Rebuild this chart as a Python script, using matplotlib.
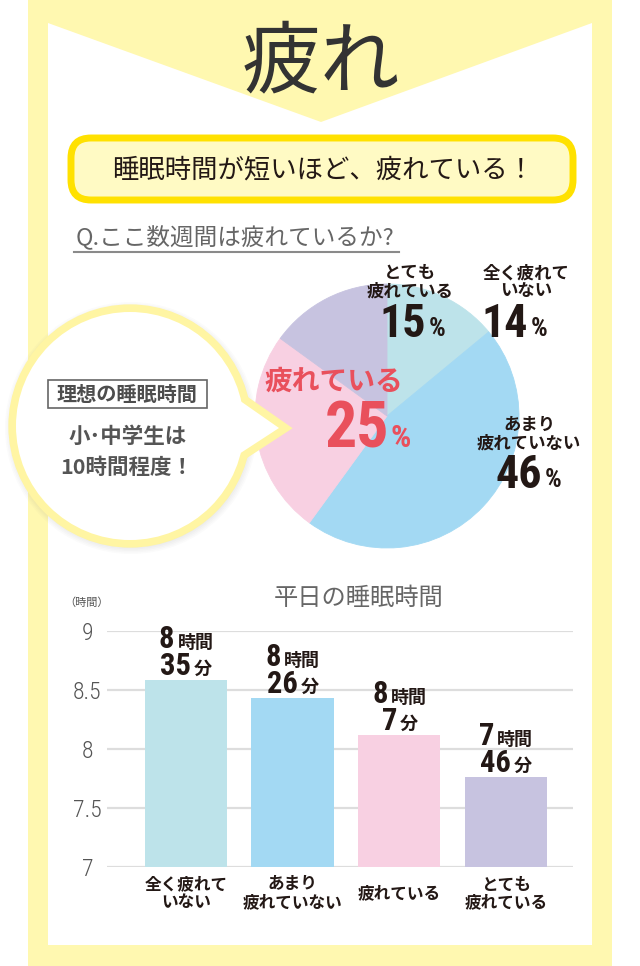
import matplotlib.pyplot as plt
from matplotlib.patches import Rectangle, Polygon, Circle, FancyBboxPatch

plt.rcParams['font.family'] = ['Noto Sans CJK JP', 'DejaVu Sans']

# pie: Q.ここ数週間は疲れているか?
pie_labels = ['全く疲れて\nいない', 'あまり\n疲れていない', '疲れている', 'とても\n疲れている']
pie_values = [14, 46, 25, 15]
pie_colors = ['#bde3ea', '#a3d9f3', '#f8d0e2', '#c7c3e0']

# bars: 平日の睡眠時間
bar_labels = ['全く疲れて\nいない', 'あまり\n疲れていない', '疲れている', 'とても\n疲れている']
bar_hours = [8, 8, 8, 7]
bar_minutes = [35, 26, 7, 46]
y_ticks = [7, 7.5, 8, 8.5, 9]

W, H = 640, 966
NUM = ['Roboto Condensed', 'DejaVu Sans']
DARK = '#231815'
FRAME = '#fff8b0'


def fig_rect(x0, y0, x1, y1):
    return [x0 / W, 1 - y1 / H, (x1 - x0) / W, (y1 - y0) / H]


fig = plt.figure(figsize=(6.4, 9.66), dpi=100)
bg = fig.add_axes([0, 0, 1, 1])
bg.set_xlim(0, W)
bg.set_ylim(H, 0)
bg.axis('off')

# frame + chevron
bg.add_patch(Rectangle((28, 0), 584, H, color=FRAME, lw=0))
bg.add_patch(Rectangle((48, 23), 544, 922, color='white', lw=0))
bg.add_patch(Polygon([(48, 23), (592, 23), (321, 122)], closed=True, color=FRAME, lw=0))
bg.text(321, 64, '疲れ', fontsize=57, color='#333333', ha='center', va='center')

bg.add_patch(FancyBboxPatch((71, 138), 502, 62, boxstyle='round,pad=0,rounding_size=20',
                            fc='#fffac4', ec='#ffe100', lw=5))
bg.text(323, 170, '睡眠時間が短いほど、疲れている！', fontsize=19, color=DARK,
        ha='center', va='center')

bg.text(76, 238, 'Q.ここ数週間は疲れているか?', fontsize=17, color='#666666',
        ha='left', va='center')
bg.plot([74, 399], [252, 252], color='#8a8a8a', lw=1.5)

# pie
cx, cy, r = 387, 416, 132
ax_pie = fig.add_axes(fig_rect(cx - r, cy - r, cx + r, cy + r))
ax_pie.pie(pie_values, colors=pie_colors, startangle=90, counterclock=False,
           radius=1, wedgeprops=dict(linewidth=0.6, edgecolor='none'))
for w, c in zip(ax_pie.patches, pie_colors):
    w.set_edgecolor(c)
ax_pie.set_xlim(-1, 1)
ax_pie.set_ylim(-1, 1)
ax_pie.axis('off')

# bar chart
vals = [h + m / 60 for h, m in zip(bar_hours, bar_minutes)]
ax = fig.add_axes(fig_rect(107, 631, 573, 867))
ax.bar(range(len(vals)), vals, width=0.77, color=pie_colors, zorder=2)
ax.set_ylim(7, 9)
ax.set_xlim(-0.74, 3.63)
ax.set_yticks(y_ticks)
ax.set_yticklabels([f'{t:g}' for t in y_ticks], family=NUM, fontweight='light',
                   fontsize=17, color='#555555')
for lab in ax.get_yticklabels():
    lab.set_ha('center')
ax.yaxis.grid(True, color='#dddddd', lw=1.6, zorder=0)
ax.set_xticks(range(len(vals)))
ax.set_xticklabels(bar_labels, fontsize=12, fontweight='bold', color=DARK,
                   linespacing=1.0, va='center')
ax.tick_params(axis='y', length=0, pad=14)
ax.tick_params(axis='x', length=0, pad=19)
for s in ax.spines.values():
    s.set_visible(False)
ax.set_facecolor('none')

for i, (h, m, v) in enumerate(zip(bar_hours, bar_minutes, vals)):
    for txt, unit, base in [(str(h), '時間', 32), (str(m), '分', 5)]:
        dw = 14 * len(txt)
        uw = 19 * len(unit)
        split = -(dw + 3 + uw) / 2 + dw + 2
        ax.annotate(txt, (i, v), xytext=(split, base), textcoords='offset pixels',
                    ha='right', va='baseline', fontsize=22, fontweight='bold',
                    family=NUM, color=DARK)
        ax.annotate(unit, (i, v), xytext=(split + 3, base), textcoords='offset pixels',
                    ha='left', va='baseline', fontsize=13, fontweight='bold', color=DARK)

bg.text(359, 598, '平日の睡眠時間', fontsize=17.5, color='#666666', ha='center', va='center')
bg.text(87, 603, '（時間）', fontsize=8, color='#555555', ha='center', va='center')

# overlay: bubble and pie labels
top = fig.add_axes([0, 0, 1, 1])
top.set_xlim(0, W)
top.set_ylim(H, 0)
top.axis('off')

bx, by, br = 130, 426, 114
for k in range(5):
    top.add_patch(Circle((bx + 1, by + 2), br + 6 + k * 1.5, color='#888888', alpha=0.03, lw=0))
ptr = [(236, 398), (279, 428), (236, 456)]
top.add_patch(Circle((bx, by), br, fc='white', ec='#fff5a3', lw=11))
top.add_patch(Polygon(ptr, closed=True, fc='white', ec='#fff5a3', lw=11, joinstyle='miter'))
top.add_patch(Circle((bx, by), br, fc='white', lw=0))
top.add_patch(Polygon(ptr, closed=True, fc='white', lw=0))

top.add_patch(Rectangle((48, 380), 159, 28, fc='white', ec='#666666', lw=1.2))
top.text(127, 394, '理想の睡眠時間', fontsize=14.5, fontweight='bold', color='#4d4d4d',
         ha='center', va='center')
top.text(128, 436, '小･中学生は', fontsize=15.5, fontweight='bold', color='#555555',
         ha='center', va='center')
top.text(127, 467, '10時間程度！', fontsize=15.5, fontweight='bold', color='#555555',
         ha='center', va='center')

# pie annotations: (label centre x, label centre y, split x, baseline y)
pie_text_pos = [(526, 282, 528, 337), (529, 434, 542, 488), None, (410, 282, 426, 337)]
for lab, v, pos in zip(pie_labels, pie_values, pie_text_pos):
    if pos is None:
        continue
    lx, ly, sx, base = pos
    top.text(lx, ly, lab, fontsize=12.5, fontweight='bold', color=DARK,
             ha='center', va='center', linespacing=1.0)
    top.text(sx, base, str(v), fontsize=33, fontweight='bold', family=NUM, color=DARK,
             ha='right', va='baseline')
    top.text(sx + 3, base - 1, '%', fontsize=19, fontweight='bold', family=NUM, color=DARK,
             ha='left', va='baseline')

RED = '#e9505c'
top.text(334, 382, pie_labels[2], fontsize=20, fontweight='bold', color=RED,
         ha='center', va='center')
top.text(389, 448, str(pie_values[2]), fontsize=46, fontweight='bold', family=NUM, color=RED,
         ha='right', va='baseline')
top.text(391, 447, '%', fontsize=23, fontweight='bold', family=NUM, color=RED,
         ha='left', va='baseline')

plt.savefig('out.png', dpi=100)
